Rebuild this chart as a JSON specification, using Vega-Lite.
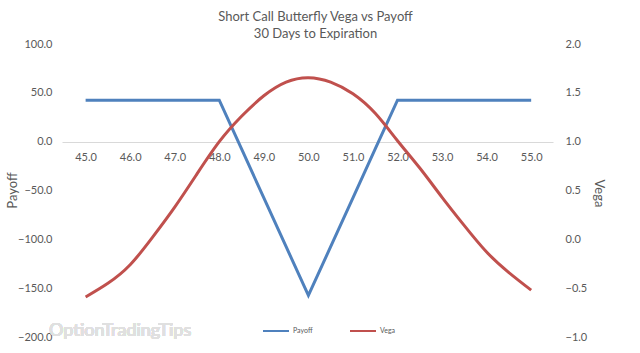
{
  "$schema": "https://vega.github.io/schema/vega-lite/v6.json",
  "width": 491,
  "height": 293,
  "autosize": {"type": "none"},
  "padding": {"left": 62, "top": 44, "right": 87, "bottom": 16},
  "background": "white",
  "config": {
    "view": {"stroke": null},
    "font": "Lato",
    "axis": {"labelColor": "#595959", "titleColor": "#595959", "labelFont": "Lato", "titleFont": "Lato", "titleFontWeight": "normal"}
  },
  "title": {
    "text": "Short Call Butterfly Vega vs Payoff",
    "subtitle": "30 Days to Expiration",
    "fontSize": 13,
    "subtitleFontSize": 13,
    "fontWeight": "normal",
    "font": "Lato",
    "subtitleFont": "Lato",
    "color": "#595959",
    "subtitleColor": "#595959",
    "anchor": "middle",
    "offset": -3,
    "dx": 8,
    "subtitlePadding": 4
  },
  "data": {
    "values": [
      {"strike": 45.0, "payoff": 42.5, "vega": -0.59},
      {"strike": 45.5, "payoff": 42.5, "vega": -0.45},
      {"strike": 46.0, "payoff": 42.5, "vega": -0.26},
      {"strike": 46.5, "payoff": 42.5, "vega": 0.02},
      {"strike": 47.0, "payoff": 42.5, "vega": 0.33},
      {"strike": 47.5, "payoff": 42.5, "vega": 0.67},
      {"strike": 48.0, "payoff": 42.5, "vega": 1.0},
      {"strike": 48.5, "payoff": -7.5, "vega": 1.26},
      {"strike": 49.0, "payoff": -57.5, "vega": 1.47},
      {"strike": 49.5, "payoff": -107.5, "vega": 1.61},
      {"strike": 50.0, "payoff": -157.5, "vega": 1.655},
      {"strike": 50.5, "payoff": -107.5, "vega": 1.61},
      {"strike": 51.0, "payoff": -57.5, "vega": 1.49},
      {"strike": 51.5, "payoff": -7.5, "vega": 1.29},
      {"strike": 52.0, "payoff": 42.5, "vega": 1.01},
      {"strike": 52.5, "payoff": 42.5, "vega": 0.73},
      {"strike": 53.0, "payoff": 42.5, "vega": 0.43},
      {"strike": 53.5, "payoff": 42.5, "vega": 0.14},
      {"strike": 54.0, "payoff": 42.5, "vega": -0.13},
      {"strike": 54.5, "payoff": 42.5, "vega": -0.34},
      {"strike": 55.0, "payoff": 42.5, "vega": -0.52}
    ]
  },
  "encoding": {
    "x": {
      "field": "strike",
      "type": "quantitative",
      "scale": {"domain": [44.47, 55.49], "nice": false, "zero": false},
      "axis": {
        "values": [45, 46, 47, 48, 49, 50, 51, 52, 53, 54, 55],
        "format": ".1f",
        "title": null,
        "domainColor": "#d9d9d9",
        "domainWidth": 1,
        "ticks": false,
        "grid": false,
        "labelPadding": 9,
        "labelFontSize": 11,
        "labelFlush": false,
        "offset": -195
      }
    }
  },
  "layer": [
    {
      "mark": {"type": "text", "align": "left", "baseline": "middle", "fontSize": 18, "font": "Lato", "color": "#e0e0e0"},
      "encoding": {
        "y": {"datum": -194, "type": "quantitative", "scale": {"domain": [-200, 100], "nice": false}, "axis": null},
        "x": {"datum": 44.18, "type": "quantitative"},
        "text": {"value": "OptionTradingTips"}
      }
    },
    {
      "mark": {"type": "line", "strokeWidth": 3, "interpolate": "linear"},
      "encoding": {
        "y": {
          "field": "payoff",
          "type": "quantitative",
          "scale": {"domain": [-200, 100], "nice": false},
          "axis": {
            "orient": "left",
            "values": [-200, -150, -100, -50, 0, 50, 100],
            "format": ".1f",
            "title": "Payoff",
            "domain": false,
            "ticks": false,
            "grid": false,
            "labelPadding": 10,
            "labelFontSize": 11,
            "titleFontSize": 13,
            "titleX": -50,
            "titleY": 146,
            "titleAngle": -90,
            "titleAlign": "center",
            "titleBaseline": "middle"
          }
        },
        "color": {
          "datum": "Payoff",
          "type": "nominal",
          "scale": {"domain": ["Payoff", "Vega"], "range": ["#4F81BD", "#C0504D"]},
          "legend": {
            "orient": "none",
            "legendX": 200,
            "legendY": 273,
            "direction": "horizontal",
            "title": null,
            "symbolType": "stroke",
            "symbolSize": 676,
            "symbolStrokeWidth": 2,
            "labelFontSize": 7,
            "labelOffset": 3,
            "columnPadding": 33,
            "padding": 0,
            "labelColor": "#595959",
            "labelFont": "Lato"
          }
        }
      }
    },
    {
      "mark": {"type": "line", "strokeWidth": 3, "interpolate": "natural"},
      "encoding": {
        "y": {
          "field": "vega",
          "type": "quantitative",
          "scale": {"domain": [-1, 2], "nice": false},
          "axis": {
            "orient": "right",
            "values": [-1, -0.5, 0, 0.5, 1, 1.5, 2],
            "format": ".1f",
            "title": "Vega",
            "domain": false,
            "ticks": false,
            "grid": false,
            "labelPadding": 12,
            "labelFontSize": 11,
            "titleFontSize": 13,
            "titleX": 45,
            "titleY": 149,
            "titleAngle": 90,
            "titleAlign": "center",
            "titleBaseline": "middle"
          }
        },
        "color": {"datum": "Vega", "type": "nominal"}
      }
    }
  ],
  "resolve": {"scale": {"y": "independent"}}
}
